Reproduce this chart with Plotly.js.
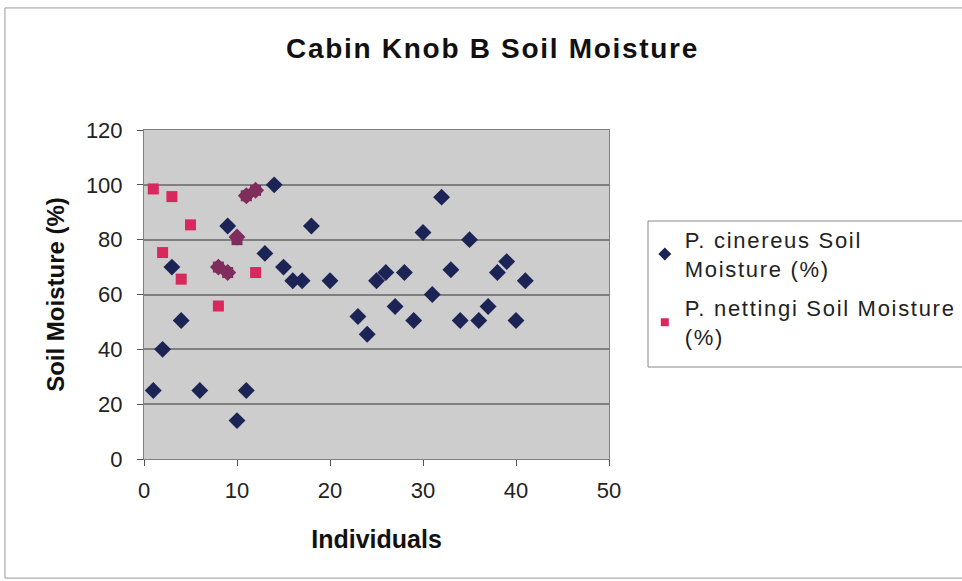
<!DOCTYPE html>
<html><head><meta charset="utf-8">
<script src="https://cdn.plot.ly/plotly-3.0.1.min.js"></script>
<style>html,body{margin:0;padding:0;background:#fff;}#chart{width:962px;height:581px;}
.gtitle{letter-spacing:1.7px;}
.legendtext{letter-spacing:1.7px;}
</style>
</head><body><div id="chart"></div>
<script>
// P. cinereus
var cinX = [1,2,3,4,6,8,9,9,10,10,11,11,12,13,14,15,16,17,18,20,23,24,25,26,27,28,29,30,31,32,33,34,35,36,37,38,39,40,41];
var cinY = [25,40,70,50.5,25,70,68,85,14,81,25,96,98,75,100,70,65,65,85,65,52,45.5,65,68,55.6,68,50.5,82.6,60,95.5,69,50.5,80,50.5,55.6,68,72,50.5,65];
// P. nettingi
var netX = [1,2,3,4,5,8,8,9,10,11,12,12];
var netY = [98.5,75.3,95.7,65.6,85.4,55.8,70,68,80,96,98,68];
var seriesNames = ['P. cinereus Soil<br>Moisture (%)', 'P. nettingi Soil Moisture<br>(%)'];

var navy = '#1c2456', pink = '#d8285e', purple = '#7e2d5c';
function near(x, y, xs, ys){
  for (var i=0;i<xs.length;i++){ if (Math.abs(xs[i]-x)<0.6 && Math.abs(ys[i]-y)<2.5) return true; }
  return false;
}
var cinCol = cinX.map(function(x,i){ return near(x,cinY[i],netX,netY)?purple:navy; });
var netCol = netX.map(function(x,i){ return near(x,netY[i],cinX,cinY)?purple:pink; });

var traces = [
  {x:cinX, y:cinY, type:'scatter', mode:'markers', showlegend:false, hoverinfo:'x+y',
   marker:{symbol:'diamond', size:13, color:cinCol}},
  {x:netX, y:netY, type:'scatter', mode:'markers', showlegend:false, hoverinfo:'x+y',
   marker:{symbol:'square', size:11, color:netCol}},
  {x:[null], y:[null], type:'scatter', mode:'markers', name:seriesNames[0], legendgroup:'a',
   marker:{symbol:'diamond', size:10, color:navy}},
  {x:[null], y:[null], type:'scatter', mode:'markers', name:seriesNames[1], legendgroup:'b',
   marker:{symbol:'square', size:8, color:pink}}
];
var font = 'Liberation Sans, Arial, sans-serif';
var layout = {
  width:962, height:581,
  margin:{l:144, r:353, t:130, b:122, autoexpand:false},
  paper_bgcolor:'#fff', plot_bgcolor:'#cdcdcd',
  font:{family:font, color:'#111', size:22},
  title:{text:'<b>Cabin Knob B Soil Moisture</b>', font:{family:font, size:28, color:'#111'}, x:0.512, xanchor:'center', y:0.917, yanchor:'middle'},
  xaxis:{range:[0,50], dtick:10, tick0:0, showgrid:false, zeroline:false, showline:true, linecolor:'#808080', linewidth:1,
         mirror:true, ticks:'outside', ticklen:6, tickcolor:'#555', tickfont:{size:22, color:'#222'}, ticklabelstandoff:6,
         automargin:false, title:{text:'<b>Individuals</b>', font:{size:25, color:'#111'}, standoff:28}},
  yaxis:{range:[0,120], dtick:20, tick0:0, showgrid:true, gridcolor:'#7f7f7f', gridwidth:1.5, zeroline:false,
         showline:true, linecolor:'#808080', linewidth:1, mirror:true, ticks:'outside', ticklen:6, tickcolor:'#555',
         automargin:false, tickfont:{size:22, color:'#222'}, ticklabelstandoff:10, title:{text:'<b>Soil Moisture (%)</b>', font:{size:24, color:'#111'}, standoff:14}},
  showlegend:true,
  legend:{x:1.077, xanchor:'left', y:0.73, yanchor:'top', bgcolor:'rgba(0,0,0,0)', borderwidth:0,
          font:{size:22, family:font, color:'#222'}, tracegroupgap:8},
  shapes:[
    {type:'rect', xref:'paper', yref:'paper', x0:-0.299, x1:1.8, y0:-0.362, y1:1.371,
     line:{color:'#999', width:1}, fillcolor:'rgba(0,0,0,0)', layer:'below'},
    {type:'rect', xref:'paper', yref:'paper', x0:1.0839, x1:1.8, y0:0.2796, y1:0.7234,
     line:{color:'#888', width:1}, fillcolor:'#fff', layer:'below'}
  ]
};
Plotly.newPlot('chart', traces, layout, {displayModeBar:false});
</script></body></html>
